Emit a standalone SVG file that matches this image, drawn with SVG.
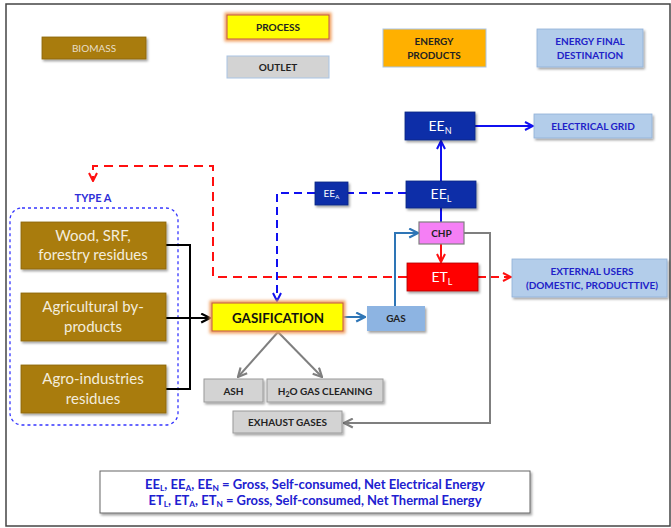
<svg xmlns="http://www.w3.org/2000/svg" width="671" height="528" viewBox="0 0 671 528">
<style>
text{font-family:Lato,"Liberation Sans",Arial,sans-serif}
.b{font-weight:bold}
.bio{fill:#A97B08;stroke:#8B6508;stroke-width:0.8}
.bt{fill:#F3ECDC;font-size:15px;text-anchor:middle}
.dark{fill:#0C2FA8;stroke:#0A2580;stroke-width:0.8}
.wt{fill:#FFFFFF;font-size:14px;text-anchor:middle}
.lb{fill:#B3CDEA;stroke:#8FB0D8;stroke-width:0.8}
.bluet{fill:#2121C8;font-size:10px;font-weight:bold;text-anchor:middle}
.gray{fill:#D3D3D3;stroke:#9A9A9A;stroke-width:1}
.gt{fill:#222;font-size:10px;font-weight:bold;text-anchor:middle}
.yel{fill:#FFFF00;stroke:#C0504D;stroke-width:1}
.line{fill:none;stroke-width:2}
.sub{font-size:9px}
</style>
<defs>
<filter id="sh" x="-10%" y="-20%" width="130%" height="160%">
<feDropShadow dx="1.5" dy="2" stdDeviation="1.2" flood-color="#000" flood-opacity="0.35"/>
</filter>
<filter id="glow" x="-15%" y="-40%" width="130%" height="180%">
<feMorphology in="SourceAlpha" operator="dilate" radius="2" result="d"/>
<feGaussianBlur in="d" stdDeviation="1.8" result="g"/>
<feFlood flood-color="#F0A060"/>
<feComposite in2="g" operator="in" result="o"/>
<feMerge><feMergeNode in="o"/><feMergeNode in="SourceGraphic"/></feMerge>
</filter>
<marker id="aBlue" viewBox="0 0 10 10" refX="9" refY="5" markerWidth="10" markerHeight="10" markerUnits="userSpaceOnUse" orient="auto"><path d="M1,1 L9,5 L1,9" fill="none" stroke="#1010F0" stroke-width="2"/></marker>
<marker id="aRed" viewBox="0 0 10 10" refX="9" refY="5" markerWidth="10" markerHeight="10" markerUnits="userSpaceOnUse" orient="auto"><path d="M1,1 L9,5 L1,9" fill="none" stroke="#FF1010" stroke-width="2"/></marker>
<marker id="aBlack" viewBox="0 0 10 10" refX="9" refY="5" markerWidth="11" markerHeight="11" markerUnits="userSpaceOnUse" orient="auto"><path d="M1,1 L9,5 L1,9" fill="none" stroke="#000" stroke-width="2"/></marker>
<marker id="aGray" viewBox="0 0 10 10" refX="9" refY="5" markerWidth="11" markerHeight="11" markerUnits="userSpaceOnUse" orient="auto"><path d="M1,1 L9,5 L1,9" fill="none" stroke="#7F7F7F" stroke-width="2"/></marker>
<marker id="aSteel" viewBox="0 0 10 10" refX="9" refY="5" markerWidth="11" markerHeight="11" markerUnits="userSpaceOnUse" orient="auto"><path d="M1,1 L9,5 L1,9" fill="none" stroke="#2E75B6" stroke-width="2"/></marker>
</defs>
<rect x="0" y="0" width="671" height="528" fill="#fff"/>
<rect x="6" y="4" width="664" height="522" fill="#fff" stroke="#444" stroke-width="1.5"/>

<!-- legend -->
<g id="leg-biomass"><rect class="bio" x="42" y="37" width="104" height="22" filter="url(#sh)"/><text x="94" y="51.5" fill="#E8DFC8" font-size="10" text-anchor="middle">BIOMASS</text></g>
<g id="leg-process"><rect class="yel" x="227" y="15" width="102" height="24" filter="url(#glow)"/><text class="gt" x="278" y="31">PROCESS</text></g>
<g id="leg-outlet"><rect x="227" y="56" width="102" height="22" fill="#D3D3D3" stroke="#A9C4E4" stroke-width="1"/><text class="gt" x="278" y="71">OUTLET</text></g>
<g id="leg-products"><rect x="383" y="29" width="103" height="38" fill="#FFB000" stroke="#A9C4E4" stroke-width="1"/><text class="gt" x="434" y="45">ENERGY</text><text class="gt" x="434" y="59">PRODUCTS</text></g>
<g id="leg-dest"><rect class="lb" x="537" y="29" width="106" height="38" filter="url(#sh)"/><text class="bluet" x="590" y="45">ENERGY FINAL</text><text class="bluet" x="590" y="59">DESTINATION</text></g>

<!-- type A group -->
<rect x="10" y="208" width="168" height="217" rx="12" fill="none" stroke="#3535FF" stroke-width="1.3" stroke-dasharray="3,3"/>
<text x="93" y="202" fill="#2E2ED8" font-size="11" font-weight="bold" text-anchor="middle">TYPE A</text>

<g id="connectors">
<!-- black -->
<polyline class="line" stroke="#000" points="166,245 190,245 190,389 166,389"/>
<line class="line" stroke="#000" x1="166" y1="318" x2="210" y2="318" marker-end="url(#aBlack)"/>
<!-- gray -->
<line class="line" stroke="#7F7F7F" x1="278" y1="332" x2="238" y2="377" marker-end="url(#aGray)"/>
<line class="line" stroke="#7F7F7F" x1="278" y1="332" x2="322" y2="377" marker-end="url(#aGray)"/>
<polyline class="line" stroke="#7F7F7F" points="464,233 490,233 490,423 344,423" marker-end="url(#aGray)"/>
<!-- steel -->
<line class="line" stroke="#2E75B6" x1="343" y1="317" x2="365" y2="317" marker-end="url(#aSteel)"/>
<polyline class="line" stroke="#2E75B6" points="395,306 395,233 418,233" marker-end="url(#aSteel)"/>
<!-- blue -->
<line class="line" stroke="#1010F0" x1="441" y1="181" x2="441" y2="141" marker-end="url(#aBlue)"/>
<line class="line" stroke="#1010F0" x1="441" y1="208" x2="441" y2="222"/>
<line class="line" stroke="#1010F0" x1="474" y1="126" x2="533" y2="126" marker-end="url(#aBlue)"/>
<line class="line" stroke="#1010F0" stroke-width="2.2" stroke-dasharray="8,5" x1="406" y1="193" x2="348" y2="193"/>
<polyline class="line" stroke="#1010F0" stroke-width="2.2" stroke-dasharray="8,5" points="315,193 277,193 277,301" marker-end="url(#aBlue)"/>
<!-- red -->
<line class="line" stroke="#FF1010" x1="441" y1="244" x2="441" y2="262" marker-end="url(#aRed)"/>
<line class="line" stroke="#FF1010" stroke-width="2.2" stroke-dasharray="8,5" x1="478" y1="277" x2="511" y2="277" marker-end="url(#aRed)"/>
<polyline class="line" stroke="#FF1010" stroke-width="2.2" stroke-dasharray="9,6" points="407,277 213,277 213,166 93,166 93,181" marker-end="url(#aRed)"/>
</g>

<!-- biomass sources -->
<g id="wood"><rect class="bio" x="21" y="222" width="145" height="47" filter="url(#sh)"/><text class="bt" x="93" y="241">Wood, SRF,</text><text class="bt" x="93" y="260">forestry residues</text></g>
<g id="agri"><rect class="bio" x="21" y="293" width="145" height="48" filter="url(#sh)"/><text class="bt" x="93" y="312">Agricultural by-</text><text class="bt" x="93" y="332">products</text></g>
<g id="agro"><rect class="bio" x="21" y="365" width="145" height="48" filter="url(#sh)"/><text class="bt" x="93" y="384">Agro-industries</text><text class="bt" x="93" y="404">residues</text></g>

<!-- process -->
<g id="gasification"><rect class="yel" x="212" y="303" width="131" height="28" filter="url(#glow)"/><text x="278" y="322.5" fill="#111" font-size="14" font-weight="bold" text-anchor="middle" textLength="92" lengthAdjust="spacingAndGlyphs">GASIFICATION</text></g>
<g id="gas"><rect x="367" y="306" width="58" height="25" fill="#8DB4E2" filter="url(#sh)"/><text class="gt" x="396" y="322">GAS</text></g>
<g id="ash"><rect class="gray" x="204" y="379" width="59" height="23" filter="url(#sh)"/><text class="gt" x="233.5" y="394.5">ASH</text></g>
<g id="h2o"><rect class="gray" x="267" y="379" width="116" height="23" filter="url(#sh)"/><text class="gt" x="325" y="394.5">H<tspan font-size="7" dy="2">2</tspan><tspan dy="-2">O GAS CLEANING</tspan></text></g>
<g id="exhaust"><rect class="gray" x="233" y="411" width="109" height="22" filter="url(#sh)"/><text class="gt" x="287.5" y="426">EXHAUST GASES</text></g>

<!-- energy -->
<g id="een"><rect class="dark" x="405" y="112" width="70" height="28" filter="url(#sh)"/><text class="wt" x="440" y="131">EE<tspan class="sub" dy="3">N</tspan></text></g>
<g id="eel"><rect class="dark" x="406" y="181" width="70" height="27" filter="url(#sh)"/><text class="wt" x="441" y="199">EE<tspan class="sub" dy="3">L</tspan></text></g>
<g id="eea"><rect class="dark" x="315" y="182" width="33" height="23" filter="url(#sh)"/><text x="331.5" y="197" fill="#fff" font-size="10" text-anchor="middle">EE<tspan font-size="6.5" dy="2">A</tspan></text></g>
<g id="chp"><rect x="419" y="222" width="45" height="22" fill="#F57FF5" stroke="#7F7F7F" stroke-width="1.2"/><text x="441.5" y="237" fill="#222" font-size="10" font-weight="bold" text-anchor="middle">CHP</text></g>
<g id="etl"><rect x="407" y="263" width="71" height="28" fill="#FF0000" stroke="#B00000" stroke-width="0.8" filter="url(#sh)"/><text class="wt" x="442" y="282">ET<tspan class="sub" dy="3">L</tspan></text></g>

<!-- destinations -->
<g id="grid"><rect class="lb" x="534" y="114" width="118" height="24" filter="url(#sh)"/><text class="bluet" x="593" y="130">ELECTRICAL GRID</text></g>
<g id="users"><rect class="lb" x="512" y="259" width="155" height="38" filter="url(#sh)"/><text class="bluet" x="592" y="275">EXTERNAL USERS</text><text class="bluet" x="592" y="289">(DOMESTIC, PRODUCTTIVE)</text></g>

<!-- bottom legend -->
<g id="note">
<rect x="100" y="471" width="430" height="42" fill="#fff" stroke="#666" stroke-width="1" filter="url(#sh)"/>
<text x="315" y="489" fill="#2020D0" font-size="12.5" font-weight="bold" text-anchor="middle" textLength="340" lengthAdjust="spacingAndGlyphs">EE<tspan font-size="8" dy="2">L</tspan><tspan dy="-2">, EE</tspan><tspan font-size="8" dy="2">A</tspan><tspan dy="-2">, EE</tspan><tspan font-size="8" dy="2">N</tspan><tspan dy="-2"> = Gross, Self-consumed,  Net Electrical Energy</tspan></text>
<text x="315" y="505" fill="#2020D0" font-size="12.5" font-weight="bold" text-anchor="middle" textLength="333" lengthAdjust="spacingAndGlyphs">ET<tspan font-size="8" dy="2">L</tspan><tspan dy="-2">, ET</tspan><tspan font-size="8" dy="2">A</tspan><tspan dy="-2">, ET</tspan><tspan font-size="8" dy="2">N</tspan><tspan dy="-2"> = Gross, Self-consumed,  Net Thermal Energy</tspan></text>
</g>
</svg>
